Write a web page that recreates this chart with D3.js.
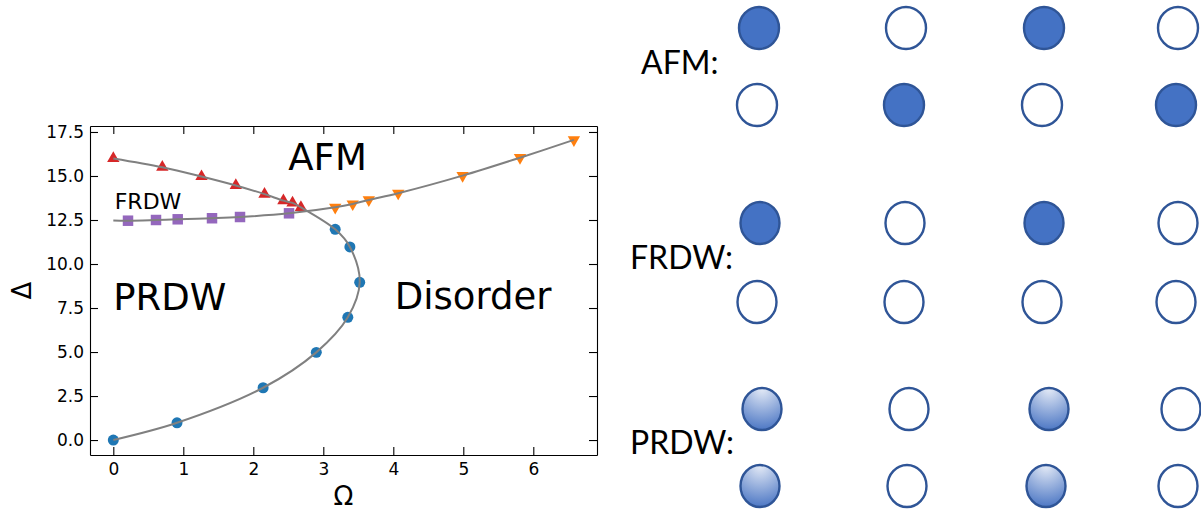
<!DOCTYPE html>
<html>
<head>
<meta charset="utf-8">
<script src="https://cdn.jsdelivr.net/npm/d3@7"></script>
<style>
  body { margin: 0; background: #fff; }
  svg { display: block; }
  .axis text { font-family: "DejaVu Sans", sans-serif; font-size: 17px; fill: #000; }
  .axis path, .axis line { stroke: #000; stroke-width: 1.1px; }
</style>
</head>
<body>
<svg id="fig" width="1201" height="510"></svg>
<script>
// phase boundary points (Omega, Delta)
const afmPoints = [[0, 16.0], [0.7, 15.5], [1.26, 14.97], [1.75, 14.46], [2.16, 13.97], [2.43, 13.6], [2.56, 13.47], [2.68, 13.22]]
const frdwPoints = [[0.21, 12.46], [0.61, 12.5], [0.92, 12.54], [1.41, 12.6], [1.81, 12.67], [2.51, 12.88]]
const disorderPoints = [[3.17, 13.22], [3.42, 13.41], [3.65, 13.64], [4.07, 14.02], [4.99, 15.02], [5.81, 16.04], [6.58, 17.05]]
const prdwPoints = [[3.17, 11.97], [3.38, 10.97], [3.52, 8.96], [3.35, 6.97], [2.9, 4.98], [2.14, 2.97], [0.91, 0.98], [0, 0]]
// start of the upper fitted line, where it meets the Delta axis
const upperFitStart = [[0, 12.47]]

const xTicks = [0, 1, 2, 3, 4, 5, 6]
const yTicks = [0, 2.5, 5, 7.5, 10, 12.5, 15, 17.5]

// phase names written inside the plot, at data coords
const phaseLabels = [
  {text: "AFM", x: 2.5, y: 15.33, size: 37},
  {text: "FRDW", x: 0.02, y: 13.1, size: 22},
  {text: "PRDW", x: 0.0, y: 7.4, size: 37},
  {text: "Disorder", x: 4.02, y: 7.45, size: 37}
]

// sketch on the right: 1 = filled, 0 = empty, 2 = shaded
const sketchNames = ["AFM:", "FRDW:", "PRDW:"]
const sketchStates = [
  [[1, 0, 1, 0], [0, 1, 0, 1]],
  [[1, 0, 1, 0], [0, 0, 0, 0]],
  [[2, 0, 2, 0], [2, 0, 2, 0]]
]

let svg = d3.select("#fig")

// Plot area
let pLeft = 90, pRight = 597, pTop = 126, pBottom = 455
let x = d3.scaleLinear().domain([-0.333, 6.91]).range([pLeft, pRight])
let y = d3.scaleLinear().domain([-0.85, 17.84]).range([pBottom, pTop])

let g = svg.append("g")

// Axes, ticks pointing inward on every side
g.append("g").attr("class", "axis")
  .attr("transform", "translate(0," + pBottom + ")")
  .call(d3.axisBottom(x).tickValues(xTicks).tickFormat(d3.format("d")).tickSizeInner(-8).tickSizeOuter(0).tickPadding(8))
g.append("g").attr("class", "axis")
  .attr("transform", "translate(0," + pTop + ")")
  .call(d3.axisTop(x).tickValues(xTicks).tickFormat("").tickSizeInner(-8).tickSizeOuter(0))
g.append("g").attr("class", "axis")
  .attr("transform", "translate(" + pLeft + ",0)")
  .call(d3.axisLeft(y).tickValues(yTicks).tickFormat(d3.format(".1f")).tickSizeInner(-8).tickSizeOuter(0).tickPadding(6))
g.append("g").attr("class", "axis")
  .attr("transform", "translate(" + pRight + ",0)")
  .call(d3.axisRight(y).tickValues(yTicks).tickFormat("").tickSizeInner(-8).tickSizeOuter(0))

// Axis titles
g.append("text")
  .attr("x", (pLeft + pRight) / 2)
  .attr("y", 505)
  .attr("text-anchor", "middle")
  .style("font", "26px 'DejaVu Sans'")
  .text("Ω")
g.append("text")
  .attr("transform", "translate(31," + (pTop + pBottom) / 2 + ") rotate(-90)")
  .attr("text-anchor", "middle")
  .style("font", "26px 'DejaVu Sans'")
  .text("Δ")

// Markers
const marker = (pts, shape, size, color, rot) => {
  g.append("g").selectAll("path")
    .data(pts)
    .enter().append("path")
      .attr("d", d3.symbol().type(shape).size(size))
      .attr("transform", (d) => "translate(" + x(d[0]) + "," + y(d[1]) + ") rotate(" + rot + ")")
      .style("fill", color)
}
marker(afmPoints, d3.symbolTriangle, 66, "#d62728", 0)
marker(frdwPoints, d3.symbolSquare, 110, "#9467bd", 0)
marker(disorderPoints, d3.symbolTriangle, 66, "#ff7f0e", 180)
marker(prdwPoints, d3.symbolCircle, 95, "#1f77b4", 0)

// Fitted boundary lines (drawn over the markers)
let line = d3.line()
  .curve(d3.curveCatmullRom.alpha(0.5))
  .x((d) => x(d[0]))
  .y((d) => y(d[1]))

g.append("path")
  .attr("d", line(afmPoints.concat(prdwPoints)))
  .style("fill", "none").style("stroke", "#808080").style("stroke-width", 2)
g.append("path")
  .attr("d", line(upperFitStart.concat(frdwPoints, disorderPoints)))
  .style("fill", "none").style("stroke", "#808080").style("stroke-width", 2)

// Phase labels
g.selectAll(".phase")
  .data(phaseLabels)
  .enter().append("text")
    .attr("class", "phase")
    .attr("x", (d) => x(d.x))
    .attr("y", (d) => y(d.y))
    .style("font-family", "'DejaVu Sans', sans-serif")
    .style("font-size", (d) => d.size + "px")
    .text((d) => d.text)

// ---- Right hand sketch of the orderings ----
let defs = svg.append("defs")
let grad = defs.append("radialGradient")
  .attr("id", "shade")
  .attr("cx", "50%").attr("cy", "0%").attr("r", "105%")
  .attr("fx", "50%").attr("fy", "0%")
grad.append("stop").attr("offset", "0%").attr("stop-color", "#e6ecf7")
grad.append("stop").attr("offset", "100%").attr("stop-color", "#4672c2")

let colX = [
  [d3.scaleOrdinal().domain([0, 1, 2, 3]).range([759, 906, 1044, 1178]), d3.scaleOrdinal().domain([0, 1, 2, 3]).range([757, 904, 1042, 1176])],
  [d3.scaleOrdinal().domain([0, 1, 2, 3]).range([760, 905, 1044, 1178]), d3.scaleOrdinal().domain([0, 1, 2, 3]).range([757, 904, 1042, 1176])],
  [d3.scaleOrdinal().domain([0, 1, 2, 3]).range([762, 909, 1049, 1181]), d3.scaleOrdinal().domain([0, 1, 2, 3]).range([760, 907, 1046, 1178])]
]
let rowY = d3.scaleOrdinal().domain([0, 1, 2]).range([[28, 105], [223, 302], [409, 486]])
let labelY = d3.scaleOrdinal().domain([0, 1, 2]).range([74, 269, 454])
let labelX = d3.scaleOrdinal().domain([0, 1, 2]).range([641, 630, 630])
let radius = d3.scaleOrdinal().domain([0, 1, 2]).range([[20, 21], [19.5, 21], [19.5, 21]])

let sketch = svg.append("g")
sketchNames.forEach((name, r) => {
  sketch.append("text")
    .attr("x", labelX(r))
    .attr("y", labelY(r))
    .style("font", "32px Lato, 'Open Sans', sans-serif")
    .text(name)
  sketchStates[r].forEach((row, k) => {
    sketch.append("g").selectAll("ellipse")
      .data(row)
      .enter().append("ellipse")
        .attr("cx", (d, i) => colX[r][k](i))
        .attr("cy", rowY(r)[k])
        .attr("rx", radius(r)[0])
        .attr("ry", radius(r)[1])
        .style("fill", (d) => d === 1 ? "#4472c4" : d === 2 ? "url(#shade)" : "#fff")
        .style("stroke", "#2f5597")
        .style("stroke-width", 2.4)
  })
})
</script>
</body>
</html>
